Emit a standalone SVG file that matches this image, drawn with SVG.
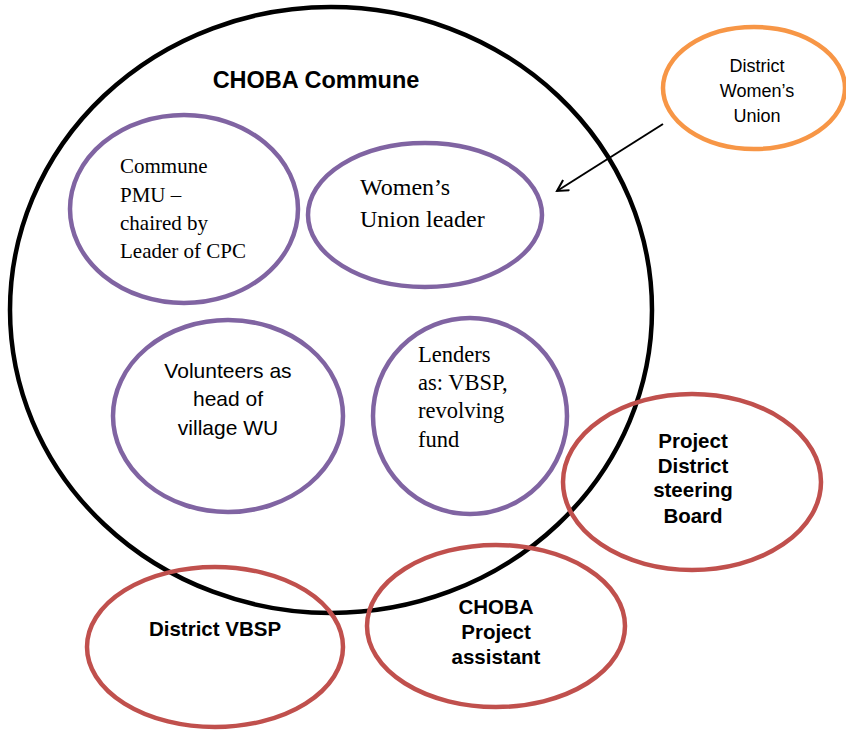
<svg xmlns="http://www.w3.org/2000/svg" width="846" height="732" viewBox="0 0 846 732">
<style>
.outer{fill:none;stroke:#000;stroke-width:4.5}
.purple{fill:none;stroke:#8064A2;stroke-width:4.5}
.red{fill:none;stroke:#C0504D;stroke-width:4.5}
.orange{fill:none;stroke:#F79646;stroke-width:4.5}
.serif{font-family:"Liberation Serif","DejaVu Serif",serif;font-size:21px;fill:#000}
.sans{font-family:"Liberation Sans",Arial,sans-serif;font-size:21px;fill:#000}
.bold{font-family:"Liberation Sans",Arial,sans-serif;font-size:20.5px;font-weight:bold;fill:#000}
</style>
<defs>
<marker id="open" markerWidth="14" markerHeight="14" refX="12" refY="7" orient="auto" markerUnits="userSpaceOnUse">
<path d="M1,1 L12,7 L1,13" fill="none" stroke="#000" stroke-width="2"/>
</marker>
</defs>
<rect width="846" height="732" fill="#fff"/>
<g id="choba-commune">
<ellipse class="outer" cx="331" cy="310" rx="321" ry="303"/>
<text class="bold" x="316" y="88" text-anchor="middle" style="font-size:23.5px">CHOBA Commune</text>
</g>
<g id="commune-pmu">
<ellipse class="purple" cx="184" cy="209" rx="114" ry="94"/>
<text class="serif" x="120"><tspan x="120" y="173">Commune</tspan><tspan x="120" y="202">PMU –</tspan><tspan x="120" y="230">chaired by</tspan><tspan x="120" y="258">Leader of CPC</tspan></text>
</g>
<g id="womens-union-leader">
<ellipse class="purple" cx="425" cy="215" rx="117" ry="72"/>
<text class="serif" style="font-size:24px"><tspan x="360" y="195">Women’s</tspan><tspan x="360" y="227">Union leader</tspan></text>
</g>
<g id="volunteers">
<ellipse class="purple" cx="228" cy="416" rx="115" ry="96"/>
<text class="sans" text-anchor="middle"><tspan x="228" y="378">Volunteers as</tspan><tspan x="228" y="406">head of</tspan><tspan x="228" y="435">village WU</tspan></text>
</g>
<g id="lenders">
<ellipse class="purple" cx="470" cy="416" rx="97" ry="98"/>
<text class="serif" style="font-size:22.5px"><tspan x="418" y="362">Lenders</tspan><tspan x="418" y="390">as: VBSP,</tspan><tspan x="418" y="418">revolving</tspan><tspan x="418" y="447">fund</tspan></text>
</g>
<g id="district-womens-union">
<ellipse class="orange" cx="754" cy="88" rx="91" ry="61"/>
<text class="sans" text-anchor="middle" style="font-size:18px"><tspan x="757" y="72">District</tspan><tspan x="757" y="97">Women’s</tspan><tspan x="757" y="122">Union</tspan></text>
</g>
<g id="project-district-steering-board">
<ellipse class="red" cx="692" cy="482" rx="129" ry="88"/>
<text class="bold" text-anchor="middle"><tspan x="693" y="448">Project</tspan><tspan x="693" y="473">District</tspan><tspan x="693" y="497">steering</tspan><tspan x="693" y="523">Board</tspan></text>
</g>
<g id="district-vbsp">
<ellipse class="red" cx="215" cy="647" rx="128" ry="80"/>
<text class="bold" x="215" y="636" text-anchor="middle">District VBSP</text>
</g>
<g id="choba-project-assistant">
<ellipse class="red" cx="496" cy="626" rx="129" ry="81"/>
<text class="bold" text-anchor="middle"><tspan x="496" y="614">CHOBA</tspan><tspan x="496" y="639">Project</tspan><tspan x="496" y="664">assistant</tspan></text>
</g>
<g id="connectors">
<line x1="663" y1="124" x2="557" y2="191" stroke="#000" stroke-width="2" marker-end="url(#open)"/>
</g>
</svg>
